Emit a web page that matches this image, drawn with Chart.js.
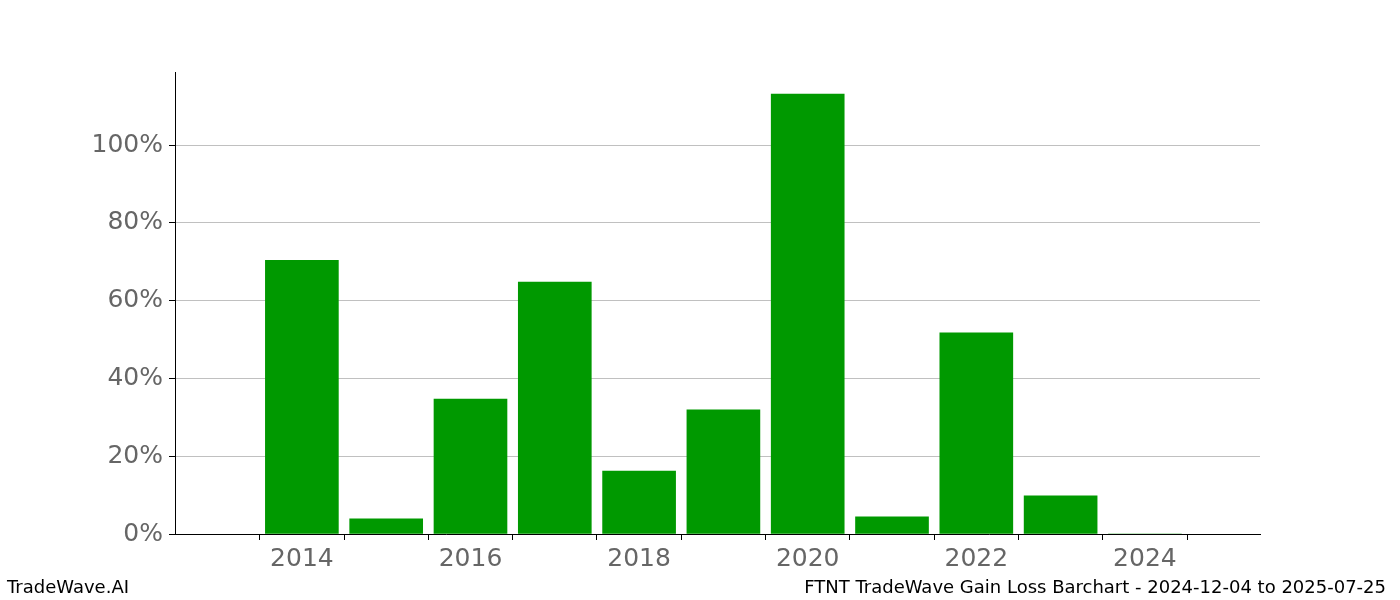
<!DOCTYPE html>
<html><head><meta charset="utf-8">
<script src="https://cdn.jsdelivr.net/npm/chart.js@4"></script>
<style>
body{margin:0;background:#fff;font-family:"DejaVu Sans";}
#w{position:relative;width:1400px;height:600px;}
.f{position:absolute;top:576px;font-size:18px;color:#000;}
</style></head><body>
<div id="w"><canvas id="c" width="1400" height="600"></canvas>
<div class="f" style="left:7px">TradeWave.AI</div>
<div class="f" style="right:14px">FTNT TradeWave Gain Loss Barchart - 2024-12-04 to 2025-07-25</div>
</div>
<script>
const years=[2014,2015,2016,2017,2018,2019,2020,2021,2022,2023,2024];
const gains=[70.4,3.9,34.7,64.8,16.2,31.9,113.1,4.4,51.7,9.8,0];
const tickFont={family:"DejaVu Sans",size:25};
new Chart(document.getElementById('c'),{
type:'bar',
data:{datasets:[{data:years.map((y,i)=>({x:y,y:gains[i]})),backgroundColor:'#009900',barThickness:73}]},
options:{responsive:false,animation:false,
layout:{padding:{left:0,right:140,top:72,bottom:0}},
plugins:{legend:{display:false},tooltip:{enabled:false}},
scales:{
x:{type:'linear',min:2013.08,max:2024.78,
afterBuildTicks:a=>{a.ticks=years.map(v=>({value:v}));},
afterFit:a=>{a.height=66;},
ticks:{autoSkip:false,color:'#666',font:tickFont,padding:4,callback:v=>v%2===0?String(v):''},
grid:{drawOnChartArea:false,tickLength:6,color:'#000'},
border:{color:'#000'}},
y:{min:0,max:118.8,
afterBuildTicks:a=>{a.ticks=[0,20,40,60,80,100].map(v=>({value:v}));},
afterFit:a=>{a.width=175;},
ticks:{color:'#666',font:tickFont,padding:6,callback:v=>v+'%'},
grid:{color:'#c0c0c0',tickLength:6,tickColor:'#000'},
border:{color:'#000'}}
}}});
</script></body></html>
